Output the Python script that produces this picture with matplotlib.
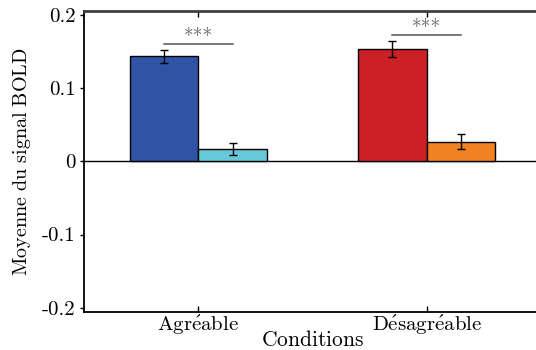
import matplotlib
matplotlib.use("Agg")
import matplotlib.pyplot as plt
import numpy as np

plt.rcParams['mathtext.fontset'] = 'cm'
plt.rcParams['font.family'] = ['cmr10', 'DejaVu Serif']
plt.rcParams['axes.unicode_minus'] = False

categories = ["Agréable", "Désagréable"]
cond_a = [0.1437, 0.1537]       # left bars
cond_a_err = [0.0087, 0.011]
cond_b = [0.0173, 0.0268]       # right bars
cond_b_err = [0.008, 0.0105]
colors_a = ["#3053a5", "#cc2027"]
colors_b = ["#66c8d8", "#f28322"]
sig_heights = [0.1605, 0.1728]
sig_labels = ["***", "***"]
yticks = [0.2, 0.1, 0.0, -0.1, -0.2]
ytick_labels = ["0.2", "0.1", "0", "-0.1", "-0.2"]
xlabel = "Conditions"
ylabel = "Moyenne du signal BOLD"


def tex(s):
    s = s.replace("é", r"\acute{e}").replace(" ", r"\ ")
    return r"$\mathrm{" + s + "}$"


W, H = 536, 350
fig = plt.figure(figsize=(W / 100, H / 100), dpi=100)
ax = fig.add_axes([84 / W, (H - 311.7) / H, (541 - 84) / W, 300.7 / H])

x = np.arange(1, len(categories) + 1)
bw = 0.3
ax.bar(x - bw / 2, cond_a, bw, color=colors_a, edgecolor="black", linewidth=1, zorder=2)
ax.bar(x + bw / 2, cond_b, bw, color=colors_b, edgecolor="black", linewidth=1, zorder=2)
ax.errorbar(x - bw / 2, cond_a, yerr=cond_a_err, fmt="none", ecolor="black",
            elinewidth=1, capsize=2.9, capthick=1, zorder=3)
ax.errorbar(x + bw / 2, cond_b, yerr=cond_b_err, fmt="none", ecolor="black",
            elinewidth=1, capsize=2.9, capthick=1, zorder=3)
ax.axhline(0, color="black", linewidth=1, zorder=1)

for xi, h, lab in zip(x, sig_heights, sig_labels):
    ax.plot([xi - bw / 2, xi + bw / 2], [h, h], color="#555555", linewidth=1.1, zorder=3)
    ax.text(xi, h + 0.0205, lab, ha="center", va="top", fontfamily="cmr10",
            color="#666666", fontsize=14)

ax.set_xlim(0.5, 2.5)
ax.set_ylim(-0.2055, 0.2055)
ax.set_xticks(x)
ax.set_xticklabels([tex(c) for c in categories], fontsize=15)
ax.set_yticks(yticks)
ax.set_yticklabels(ytick_labels, fontsize=15, fontfamily="cmr10")
ax.set_xlabel(tex(xlabel), fontsize=15.5, labelpad=-5)
ax.set_ylabel(tex(ylabel), fontsize=14.5)
ax.yaxis.set_label_coords(-0.112, 0.5)

ax.tick_params(axis="x", direction="in", top=True, bottom=True, length=4, width=1, pad=1.5)
ax.tick_params(axis="y", direction="out", left=True, right=False, length=3, width=1, pad=3)

for s in ["left", "bottom"]:
    ax.spines[s].set_linewidth(1.3)
    ax.spines[s].set_color("black")
ax.spines["top"].set_linewidth(2)
ax.spines["top"].set_color("#404040")
ax.spines["right"].set_visible(False)

fig.savefig("out.png", dpi=100)
